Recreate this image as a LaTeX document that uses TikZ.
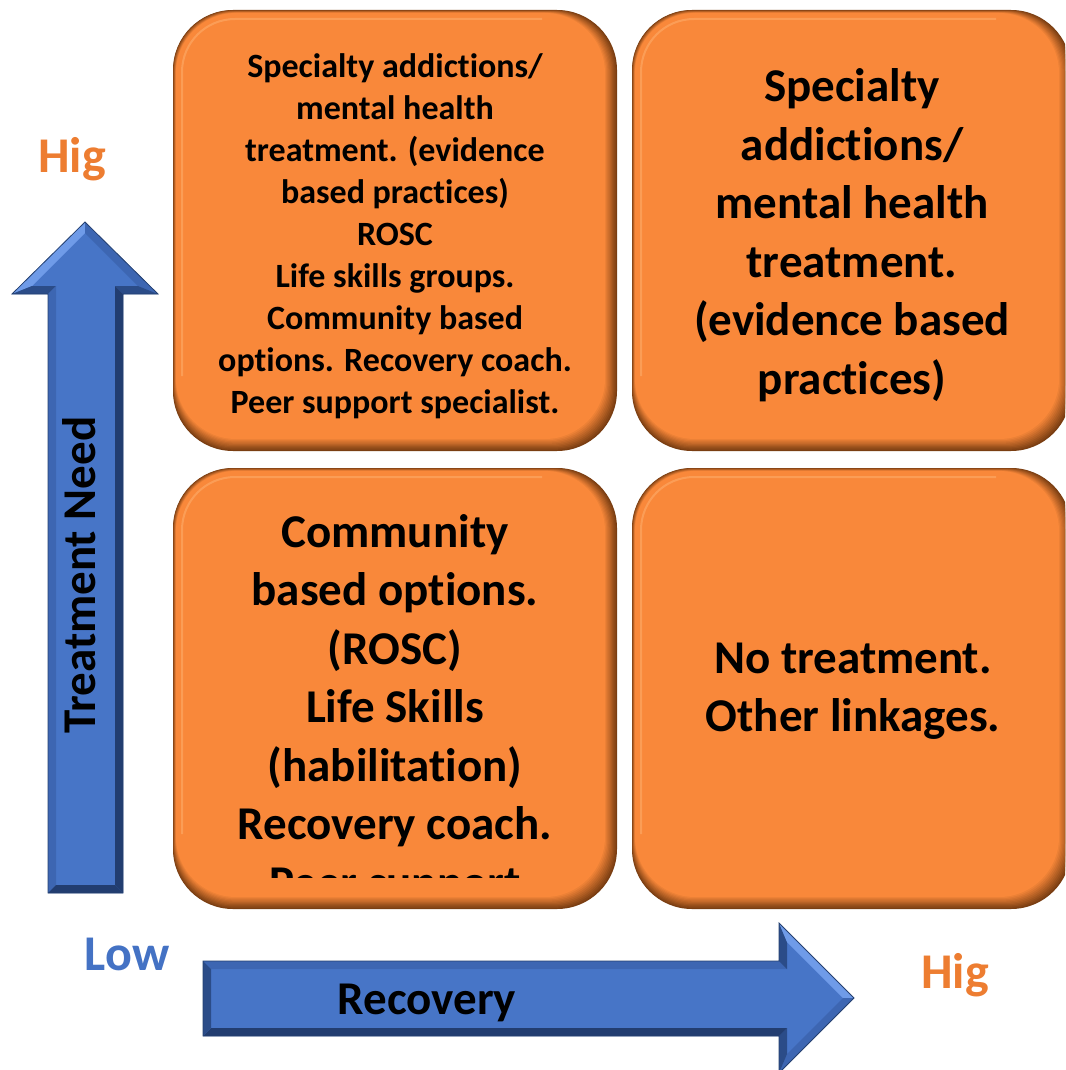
\documentclass[tikz,border=0pt]{standalone}
\usepackage{fontspec}
\setmainfont{Carlito}[Ligatures=NoCommon]
\definecolor{boxor}{HTML}{F9883A}
\definecolor{boxdk}{HTML}{7A3E12}
\definecolor{boxhl}{HTML}{FFB77A}
\definecolor{arrmain}{HTML}{4775C7}
\definecolor{arrlight}{HTML}{6F9BE8}
\definecolor{arrmid}{HTML}{3D66B2}
\definecolor{arrdark}{HTML}{2B4C88}
\definecolor{arrdarker}{HTML}{223D70}
\definecolor{arrline}{HTML}{25406F}
\definecolor{hior}{HTML}{ED7D31}
\definecolor{lowbl}{HTML}{4472C4}
\newcommand\quadbox[4]{%
  \foreach \i in {0,...,10}{%
    \pgfmathsetmacro\p{\i*10}%
    \fill[boxor!\p!boxdk, rounded corners=60] ({#1+0.3*\i},{#2+0.3*\i}) rectangle ({#3-1.2*\i},{#4-1.2*\i});
  }%
  \draw[boxhl, line width=2, opacity=0.45] ({#1+9},{#4-75}) -- ({#1+9},{#2+62}) arc[start angle=180, end angle=270, radius=53] -- ({#3-75},{#2+9});
}
\tikzset{
  smalltxt/.style={font=\fontsize{34}{42}\selectfont\bfseries, align=center, inner sep=0pt},
  bigtxt/.style={font=\fontsize{47}{58.5}\selectfont\bfseries, align=center, inner sep=0pt},
  axislbl/.style={font=\fontsize{50}{60}\selectfont\bfseries, anchor=base, inner sep=0pt},
  arrowlbl/.style={font=\fontsize{47}{56}\selectfont\bfseries, anchor=base, inner sep=0pt},
}
\begin{document}
\begin{tikzpicture}[x=1pt, y=-1pt]
\useasboundingbox (0,0) rectangle (1065,1070);
\begin{scope}
\clip (0,0) rectangle (1065,1070);
% quadrant boxes
\quadbox{173}{10}{617}{451}
\quadbox{632}{10}{1071}{451}
\quadbox{173}{468}{617}{909}
\quadbox{632}{468}{1071}{909}

% vertical arrow
\fill[arrmain] (85,222) -- (158,294) -- (123,294) -- (123,893) -- (48,893) -- (48,294) -- (12,294) -- cycle;
\fill[arrlight] (85,222) -- (12,294) -- (32,286) -- (85,233) -- cycle;
\fill[arrmid] (85,222) -- (158,294) -- (138,286) -- (85,233) -- cycle;
\fill[arrdark] (158,294) -- (123,294) -- (115,286) -- (138,286) -- cycle;
\fill[arrdark] (12,294) -- (48,294) -- (56,286) -- (32,286) -- cycle;
\fill[arrdarker] (123,294) -- (123,893) -- (115,885) -- (115,286) -- cycle;
\fill[arrmid] (48,294) -- (48,893) -- (56,885) -- (56,286) -- cycle;
\fill[arrdarker] (48,893) -- (123,893) -- (115,885) -- (56,885) -- cycle;
\draw[arrline, line width=0.8] (85,222) -- (158,294) -- (123,294) -- (123,893) -- (48,893) -- (48,294) -- (12,294) -- cycle;

% horizontal arrow
\fill[arrmain] (203,961) -- (779,961) -- (779,923) -- (854,998) -- (779,1073) -- (779,1036) -- (203,1036) -- cycle;
\fill[arrmid] (203,961) -- (779,961) -- (787,969) -- (211,969) -- cycle;
\fill[arrdark] (779,961) -- (779,923) -- (787,942) -- (787,969) -- cycle;
\fill[arrlight] (779,923) -- (854,998) -- (843,998) -- (787,942) -- cycle;
\fill[arrmid] (854,998) -- (779,1073) -- (787,1054) -- (843,998) -- cycle;
\fill[arrdark] (779,1073) -- (779,1036) -- (787,1028) -- (787,1054) -- cycle;
\fill[arrdarker] (779,1036) -- (203,1036) -- (211,1028) -- (787,1028) -- cycle;
\fill[arrdark] (203,1036) -- (203,961) -- (211,969) -- (211,1028) -- cycle;
\draw[arrline, line width=0.8] (203,961) -- (779,961) -- (779,923) -- (854,998) -- (779,1073) -- (779,1036) -- (203,1036) -- cycle;
\end{scope}

% box texts
\node[smalltxt] (tl) at (395,236) {Specialty addictions/\\mental health\\treatment. (evidence\\based practices)\\ROSC\\Life skills groups.\\Community based\\options. Recovery coach.\\Peer support specialist.};
\node[bigtxt] (tr) at (852,235) {Specialty\\addictions/\\mental health\\treatment.\\(evidence based\\practices)};
\begin{scope}
\clip (173,468) rectangle (617,877);
\node[bigtxt] (bl) at (395,710) {Community\\based options.\\(ROSC)\\Life Skills\\(habilitation)\\Recovery coach.\\Peer support};
\end{scope}
\node[bigtxt] (br) at (853,691) {No treatment.\\Other linkages.};

% axis labels
\node[axislbl, text=hior] (highy) at (72,172) {Hig};
\node[axislbl, text=lowbl] (low) at (127,970) {Low};
\node[axislbl, text=hior] (highx) at (955,988) {Hig};
\node[arrowlbl] (recovery) at (427,1014) {Recovery};
\node[arrowlbl, rotate=90] (need) at (95,575) {Treatment Need};
\end{tikzpicture}
\end{document}
